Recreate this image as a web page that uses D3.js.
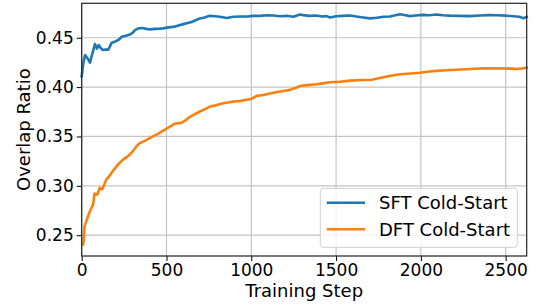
<!DOCTYPE html>
<html>
<head>
<meta charset="utf-8">
<script src="https://cdn.jsdelivr.net/npm/d3@7"></script>
<style>
  body { margin: 0; background: #fff; }
  svg { display: block; font-family: "DejaVu Sans", sans-serif; }
</style>
</head>
<body>
<svg id="chart"></svg>
<script>
var width = 534;
var height = 305;
var margin = { top: 3.3, right: 7.3, bottom: 49, left: 81.7 };

// SFT cold-start run
var sftSteps = [0, 10, 20, 35, 49, 60, 78, 90, 100, 110, 124, 140, 157, 177, 195, 216, 236, 260, 285, 300,
  314, 334, 360, 380, 403, 430, 460, 481, 510, 540, 570, 599, 625, 648, 675, 697, 725, 756, 785, 815,
  855, 894, 940, 980, 1012, 1052, 1090, 1130, 1170, 1210, 1248, 1287, 1307, 1340, 1380, 1420, 1444, 1464,
  1500, 1540, 1582, 1620, 1660, 1700, 1740, 1780, 1818, 1850, 1877, 1910, 1936, 1970, 2010, 2050, 2093,
  2130, 2170, 2230, 2290, 2350, 2400, 2450, 2500, 2545, 2580, 2604, 2624];
var sftValues = [0.411, 0.425, 0.4325, 0.429, 0.4248, 0.432, 0.4436, 0.439, 0.4426, 0.440, 0.4376, 0.438, 0.438,
  0.445, 0.446, 0.4477, 0.451, 0.452, 0.4534, 0.455, 0.4578, 0.4595, 0.4598, 0.459, 0.4585, 0.459, 0.4592,
  0.4595, 0.4605, 0.461, 0.4625, 0.4638, 0.465, 0.466, 0.468, 0.4696, 0.4705, 0.4722, 0.4718, 0.4712,
  0.470, 0.4712, 0.4715, 0.4715, 0.4722, 0.4722, 0.4728, 0.4725, 0.4718, 0.4722, 0.4712, 0.4736, 0.4729,
  0.4722, 0.4726, 0.4716, 0.4719, 0.4706, 0.4718, 0.4722, 0.4726, 0.4715, 0.4705, 0.4696, 0.4702, 0.4712,
  0.4715, 0.4728, 0.4738, 0.4728, 0.4719, 0.4725, 0.4732, 0.4728, 0.4736, 0.4728, 0.4724, 0.4722, 0.4719,
  0.4725, 0.4729, 0.4728, 0.4724, 0.4718, 0.4712, 0.4698, 0.4712];

// DFT cold-start run
var dftSteps = [8, 12, 17, 25, 37, 50, 67, 76, 84, 92, 106, 114, 122, 135, 145, 160, 175, 195, 214, 240,
  265, 293, 310, 322, 342, 365, 391, 420, 450, 475, 499, 525, 548, 570, 587, 610, 627, 660, 697, 730,
  756, 790, 835, 880, 930, 973, 1000, 1032, 1070, 1110, 1150, 1190, 1228, 1260, 1287, 1330, 1386, 1430,
  1464, 1520, 1582, 1650, 1710, 1745, 1778, 1830, 1877, 1940, 1995, 2050, 2093, 2150, 2210, 2270, 2340,
  2407, 2480, 2540, 2565, 2600, 2624];
var dftValues = [0.2406, 0.245, 0.2591, 0.263, 0.2692, 0.275, 0.281, 0.2921, 0.2915, 0.2911, 0.2979, 0.2965,
  0.2969, 0.302, 0.3063, 0.309, 0.313, 0.3175, 0.3214, 0.326, 0.329, 0.3332, 0.337, 0.3399, 0.3433, 0.345,
  0.3474, 0.350, 0.3527, 0.3555, 0.3578, 0.3605, 0.3628, 0.3635, 0.3637, 0.366, 0.3686, 0.372, 0.3753,
  0.378, 0.3803, 0.3815, 0.3837, 0.385, 0.386, 0.3871, 0.388, 0.3911, 0.392, 0.3935, 0.395, 0.396, 0.3972,
  0.399, 0.4012, 0.402, 0.4029, 0.404, 0.4049, 0.4055, 0.4066, 0.4072, 0.4075, 0.4088, 0.410, 0.4118,
  0.413, 0.4138, 0.4146, 0.4158, 0.4164, 0.417, 0.4176, 0.4181, 0.4188, 0.4191, 0.4188, 0.4187, 0.4184,
  0.419, 0.4197];

var xTicks = [0, 500, 1000, 1500, 2000, 2500];
var yTicks = [0.25, 0.30, 0.35, 0.40, 0.45];
var seriesNames = ["SFT Cold-Start", "DFT Cold-Start"];
var seriesColors = ["#1f77b4", "#ff7f0e"];

var series = [
  { name: seriesNames[0], color: seriesColors[0], pts: sftSteps.map(function(s, i) { return [s, sftValues[i]]; }) },
  { name: seriesNames[1], color: seriesColors[1], pts: dftSteps.map(function(s, i) { return [s, dftValues[i]]; }) }
];

var svg = d3.select("#chart").attr("width", width).attr("height", height);

var x = d3.scaleLinear().domain([0, 2624]).range([margin.left, width - margin.right]);
var y = d3.scaleLinear().domain([0.2289, 0.4849]).range([height - margin.bottom, margin.top]);

// grid
svg.append("g").selectAll("line.gx").data(xTicks).enter().append("line")
  .attr("x1", d => x(d)).attr("x2", d => x(d))
  .attr("y1", margin.top).attr("y2", height - margin.bottom)
  .attr("stroke", "#c4c4c4").attr("stroke-width", 1.2);
svg.append("g").selectAll("line.gy").data(yTicks).enter().append("line")
  .attr("x1", margin.left).attr("x2", width - margin.right)
  .attr("y1", d => y(d)).attr("y2", d => y(d))
  .attr("stroke", "#c4c4c4").attr("stroke-width", 1.2);

// lines
var line = d3.line().x(d => x(d[0])).y(d => y(d[1]));
svg.append("g").selectAll("path").data(series).enter().append("path")
  .attr("d", d => line(d.pts))
  .attr("fill", "none")
  .attr("stroke", d => d.color)
  .attr("stroke-width", 2.6)
  .attr("stroke-linejoin", "round")
  .attr("stroke-linecap", "square");

// axes
var xAxis = svg.append("g")
  .attr("transform", "translate(0," + (height - margin.bottom) + ")")
  .call(d3.axisBottom(x).tickValues(xTicks).tickSize(5).tickPadding(3).tickFormat(d3.format("d")));
var yAxis = svg.append("g")
  .attr("transform", "translate(" + margin.left + ",0)")
  .call(d3.axisLeft(y).tickValues(yTicks).tickSize(5).tickPadding(3).tickFormat(d3.format(".2f")));
[xAxis, yAxis].forEach(function(a) {
  a.select(".domain").remove();
  a.selectAll("text").attr("font-size", 17).attr("font-family", "DejaVu Sans").attr("fill", "#000");
  a.selectAll("line").attr("stroke", "#000").attr("stroke-width", 1);
});

// frame
svg.append("rect")
  .attr("x", margin.left).attr("y", margin.top)
  .attr("width", width - margin.left - margin.right)
  .attr("height", height - margin.top - margin.bottom)
  .attr("fill", "none").attr("stroke", "#222").attr("stroke-width", 1.2);

// axis labels
svg.append("text")
  .attr("x", (margin.left + width - margin.right) / 2).attr("y", 297)
  .attr("text-anchor", "middle").attr("font-size", 18)
  .text("Training Step");
svg.append("text")
  .attr("transform", "translate(30," + ((margin.top + height - margin.bottom) / 2) + ") rotate(-90)")
  .attr("text-anchor", "middle").attr("font-size", 18)
  .text("Overlap Ratio");

// legend
var lg = svg.append("g");
lg.append("rect")
  .attr("x", 320.3).attr("y", 188.3).attr("width", 197).attr("height", 59)
  .attr("rx", 3).attr("fill", "#fff").attr("fill-opacity", 0.8)
  .attr("stroke", "#d0d0d0").attr("stroke-width", 1);
series.forEach(function(s, i) {
  var cy = 202.7 + i * 26.6;
  lg.append("line").attr("x1", 326.7).attr("x2", 365).attr("y1", cy).attr("y2", cy)
    .attr("stroke", s.color).attr("stroke-width", 2.6);
  lg.append("text").attr("x", 379).attr("y", cy).attr("dy", "0.36em")
    .attr("font-size", 18).text(s.name);
});
</script>
</body>
</html>
